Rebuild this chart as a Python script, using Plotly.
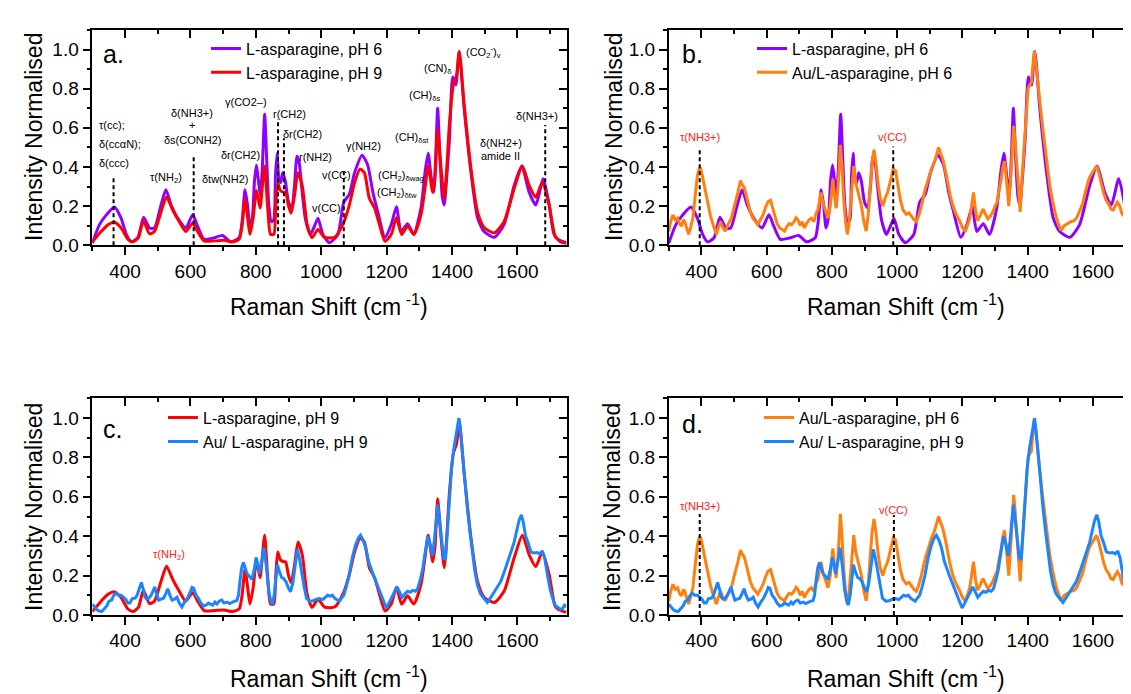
import plotly.graph_objects as go

# ---------------- data ----------------
# L-asparagine, pH 6 (purple)
lasp6_x = [300, 322, 343, 368, 388, 404, 419, 439, 457, 475, 490, 510, 525, 541, 561, 586, 607, 622, 642, 673,
           698, 723, 749, 758, 767, 775, 782, 790, 796, 802, 808, 814, 820, 827, 833, 840, 848, 855, 860, 865,
           871, 876, 882, 890, 900, 910, 918, 926, 932, 940, 952, 967, 980, 990, 1005, 1025, 1051, 1069, 1086, 1102,
           1125, 1142, 1158, 1173, 1195, 1214, 1230, 1244, 1264, 1283, 1305, 1318, 1327, 1336, 1344, 1350, 1356, 1363, 1370, 1376,
           1384, 1392, 1402, 1408, 1412, 1422, 1437, 1458, 1478, 1498, 1529, 1559, 1590, 1613, 1636, 1656, 1679, 1697, 1712, 1732, 1750]
lasp6_y = [0.01, 0.105, 0.155, 0.195, 0.138, 0.055, 0.017, 0.038, 0.143, 0.088, 0.088, 0.205, 0.283, 0.205, 0.138, 0.088, 0.155, 0.097, 0.03, 0.038,
           0.05, 0.017, 0.038, 0.12, 0.283, 0.2, 0.088, 0.15, 0.33, 0.41, 0.33, 0.25, 0.4, 0.67, 0.45, 0.2, 0.12, 0.13, 0.35, 0.47,
           0.33, 0.32, 0.37, 0.33, 0.22, 0.19, 0.3, 0.455, 0.43, 0.3, 0.13, 0.055, 0.1, 0.138, 0.055, 0.013, 0.055, 0.22, 0.26, 0.37,
           0.46, 0.41, 0.27, 0.17, 0.04, 0.105, 0.197, 0.07, 0.11, 0.055, 0.19, 0.38, 0.47, 0.35, 0.27, 0.45, 0.70, 0.45, 0.25, 0.205,
           0.35, 0.54, 0.86, 0.84, 0.82, 0.99, 0.70, 0.37, 0.14, 0.07, 0.04, 0.105, 0.305, 0.405, 0.27, 0.205, 0.34, 0.205, 0.055, 0.017, 0.01]

# L-asparagine, pH 9 (red)
lasp9_x = [300, 327, 348, 368, 388, 409, 424, 441, 456, 475, 490, 510, 527, 546, 566, 586, 607, 622, 642, 673,
           703, 728, 749, 758, 767, 775, 782, 792, 802, 813, 820, 827, 836, 845, 855, 861, 867, 875, 885, 891,
           900, 908, 918, 929, 942, 957, 972, 990, 1010, 1041, 1066, 1086, 1102, 1119, 1132, 1147, 1163, 1178, 1195, 1214,
           1230, 1246, 1264, 1283, 1305, 1318, 1327, 1341, 1348, 1356, 1365, 1376, 1384, 1392, 1404, 1414, 1422, 1437, 1458, 1478,
           1498, 1529, 1559, 1590, 1615, 1636, 1656, 1676, 1697, 1717, 1742, 1750]
lasp9_y = [0.017, 0.07, 0.105, 0.117, 0.088, 0.03, 0.017, 0.038, 0.125, 0.058, 0.07, 0.17, 0.247, 0.18, 0.12, 0.07, 0.113, 0.07, 0.022, 0.022,
           0.025, 0.017, 0.03, 0.1, 0.233, 0.14, 0.055, 0.14, 0.28, 0.19, 0.3, 0.405, 0.2, 0.055, 0.055, 0.2, 0.32, 0.28, 0.27, 0.27,
           0.2, 0.163, 0.25, 0.37, 0.305, 0.105, 0.038, 0.08, 0.04, 0.04, 0.105, 0.205, 0.32, 0.39, 0.37, 0.24, 0.19, 0.105, 0.02, 0.055,
           0.14, 0.055, 0.097, 0.055, 0.155, 0.3, 0.405, 0.27, 0.35, 0.59, 0.42, 0.24, 0.4, 0.62, 0.82, 0.87, 0.99, 0.72, 0.39, 0.17,
           0.09, 0.063, 0.12, 0.29, 0.405, 0.305, 0.245, 0.32, 0.205, 0.04, 0.017, 0.015]

# Au/L-asparagine, pH 6 (orange)
au6_x = [300, 306, 313, 320, 327, 333, 339, 345, 349, 355, 361, 367, 374, 381, 388, 393, 397, 401, 405, 412,
         420, 428, 436, 441, 446, 452, 459, 466, 473, 480, 486, 492, 498, 505, 512, 516, 520, 525, 531, 537,
         543, 550, 558, 566, 573, 581, 589, 596, 604, 612, 618, 624, 632, 640, 648, 655, 662, 669, 676, 684,
         690, 696, 703, 709, 716, 722, 730, 737, 745, 751, 757, 762, 767, 772, 778, 783, 788, 795, 803, 808,
         813, 819, 826, 831, 836, 842, 847, 852, 857, 862, 867, 873, 880, 885, 890, 898, 905, 911, 917, 923,
         929, 935, 941, 948, 956, 963, 971, 980, 988, 995, 1003, 1010, 1018, 1028, 1036, 1044, 1052, 1059, 1066, 1074,
         1085, 1095, 1105, 1115, 1121, 1127, 1133, 1140, 1148, 1156, 1163, 1171, 1180, 1191, 1200, 1209, 1216, 1222, 1228, 1234,
         1240, 1246, 1254, 1263, 1270, 1278, 1286, 1293, 1300, 1306, 1312, 1318, 1324, 1329, 1335, 1342, 1348, 1352, 1357, 1362,
         1367, 1372, 1377, 1383, 1390, 1396, 1401, 1406, 1411, 1416, 1420, 1425, 1431, 1438, 1446, 1453, 1461, 1468, 1476, 1486,
         1496, 1502, 1512, 1522, 1532, 1542, 1550, 1558, 1568, 1578, 1588, 1598, 1605, 1611, 1618, 1624, 1632, 1640, 1648, 1655,
         1662, 1668, 1675, 1682, 1689, 1695, 1702, 1710, 1718, 1726, 1733, 1740, 1750]
au6_y = [0.07, 0.12, 0.155, 0.13, 0.138, 0.11, 0.097, 0.13, 0.12, 0.08, 0.055, 0.09, 0.138, 0.25, 0.355, 0.39, 0.397, 0.37, 0.338, 0.27,
         0.205, 0.15, 0.105, 0.08, 0.055, 0.09, 0.12, 0.09, 0.072, 0.1, 0.12, 0.138, 0.18, 0.22, 0.27, 0.3, 0.33, 0.31, 0.297, 0.26,
         0.222, 0.17, 0.138, 0.12, 0.105, 0.13, 0.155, 0.19, 0.222, 0.23, 0.19, 0.155, 0.11, 0.088, 0.08, 0.072, 0.095, 0.11, 0.105, 0.12,
         0.14, 0.13, 0.1, 0.12, 0.088, 0.11, 0.13, 0.138, 0.12, 0.16, 0.18, 0.22, 0.27, 0.22, 0.188, 0.16, 0.138, 0.2, 0.338, 0.25,
         0.188, 0.3, 0.513, 0.4, 0.238, 0.12, 0.055, 0.1, 0.205, 0.3, 0.405, 0.32, 0.27, 0.25, 0.205, 0.12, 0.072, 0.15, 0.305, 0.42,
         0.488, 0.42, 0.32, 0.24, 0.2, 0.24, 0.27, 0.33, 0.39, 0.38, 0.3, 0.23, 0.18, 0.158, 0.165, 0.145, 0.13, 0.12, 0.15, 0.2,
         0.28, 0.335, 0.39, 0.43, 0.47, 0.5, 0.47, 0.44, 0.38, 0.3, 0.25, 0.2, 0.16, 0.125, 0.09, 0.07, 0.1, 0.135, 0.2, 0.27,
         0.18, 0.125, 0.15, 0.185, 0.16, 0.135, 0.15, 0.17, 0.2, 0.22, 0.28, 0.33, 0.4, 0.43, 0.33, 0.2, 0.35, 0.5, 0.61, 0.52,
         0.41, 0.28, 0.17, 0.35, 0.535, 0.7, 0.8, 0.82, 0.83, 0.92, 0.993, 0.93, 0.82, 0.72, 0.6, 0.5, 0.395, 0.3, 0.228, 0.15,
         0.1, 0.075, 0.1, 0.11, 0.12, 0.125, 0.14, 0.17, 0.21, 0.28, 0.34, 0.37, 0.39, 0.405, 0.37, 0.32, 0.27, 0.23, 0.21, 0.185,
         0.18, 0.2, 0.22, 0.2, 0.16, 0.15, 0.12, 0.095, 0.11, 0.125, 0.14, 0.15, 0.15]

# Au/ L-asparagine, pH 9 (blue)
au9_x = [300, 307, 315, 322, 329, 336, 344, 351, 359, 366, 372, 380, 388, 395, 402, 409, 415, 422, 431, 437,
         443, 450, 456, 461, 467, 473, 480, 486, 491, 496, 503, 510, 518, 525, 531, 537, 544, 552, 559, 566,
         574, 582, 590, 598, 605, 610, 617, 625, 632, 640, 648, 655, 661, 668, 675, 681, 688, 696, 703, 712,
         720, 727, 735, 742, 747, 752, 757, 762, 768, 773, 778, 788, 795, 801, 806, 811, 818, 825, 832, 839,
         845, 850, 856, 861, 866, 872, 879, 885, 892, 899, 906, 913, 920, 927, 933, 940, 947, 955, 965, 975,
         985, 995, 1005, 1013, 1020, 1028, 1034, 1041, 1048, 1055, 1062, 1069, 1076, 1085, 1095, 1104, 1113, 1120, 1128, 1136,
         1145, 1153, 1160, 1167, 1176, 1185, 1193, 1199, 1207, 1214, 1222, 1232, 1240, 1247, 1255, 1264, 1272, 1280, 1288, 1295,
         1303, 1310, 1318, 1326, 1333, 1340, 1346, 1351, 1356, 1362, 1368, 1374, 1380, 1385, 1391, 1398, 1405, 1414, 1421, 1426,
         1432, 1440, 1447, 1455, 1463, 1470, 1478, 1486, 1495, 1503, 1508, 1517, 1527, 1538, 1549, 1560, 1570, 1580, 1590, 1598,
         1605, 1612, 1618, 1625, 1632, 1641, 1650, 1660, 1668, 1676, 1683, 1692, 1700, 1707, 1714, 1722, 1730, 1737, 1744, 1750]
au9_y = [0.055, 0.04, 0.025, 0.02, 0.017, 0.03, 0.045, 0.07, 0.075, 0.1, 0.11, 0.1, 0.1, 0.09, 0.08, 0.06, 0.06, 0.083, 0.085, 0.1,
         0.13, 0.165, 0.13, 0.09, 0.08, 0.085, 0.1, 0.12, 0.142, 0.11, 0.075, 0.08, 0.085, 0.11, 0.133, 0.1, 0.075, 0.08, 0.09, 0.06,
         0.04, 0.065, 0.083, 0.11, 0.14, 0.135, 0.1, 0.083, 0.06, 0.045, 0.05, 0.06, 0.055, 0.05, 0.065, 0.055, 0.07, 0.075, 0.06, 0.065,
         0.058, 0.065, 0.07, 0.072, 0.1, 0.18, 0.24, 0.267, 0.24, 0.21, 0.2, 0.18, 0.23, 0.292, 0.26, 0.21, 0.27, 0.342, 0.25, 0.13,
         0.075, 0.05, 0.1, 0.2, 0.255, 0.22, 0.19, 0.185, 0.17, 0.14, 0.117, 0.16, 0.26, 0.333, 0.29, 0.217, 0.15, 0.085, 0.07, 0.072,
         0.08, 0.083, 0.078, 0.09, 0.1, 0.095, 0.1, 0.085, 0.078, 0.07, 0.085, 0.1, 0.14, 0.2, 0.29, 0.35, 0.39, 0.405, 0.38, 0.34,
         0.27, 0.228, 0.2, 0.17, 0.13, 0.09, 0.06, 0.035, 0.06, 0.087, 0.11, 0.142, 0.11, 0.09, 0.105, 0.12, 0.115, 0.125, 0.12, 0.133,
         0.18, 0.23, 0.32, 0.4, 0.36, 0.3, 0.38, 0.48, 0.56, 0.48, 0.38, 0.29, 0.28, 0.4, 0.57, 0.74, 0.84, 0.92, 1.0, 0.93,
         0.815, 0.68, 0.54, 0.42, 0.317, 0.22, 0.15, 0.11, 0.09, 0.07, 0.063, 0.085, 0.11, 0.14, 0.17, 0.22, 0.27, 0.32, 0.37, 0.43,
         0.48, 0.508, 0.47, 0.4, 0.37, 0.32, 0.315, 0.317, 0.31, 0.325, 0.29, 0.2, 0.13, 0.09, 0.05, 0.04, 0.03, 0.03, 0.05, 0.04]

# band-marker (dashed) positions and heights per panel
marks_a_x = [365, 610, 868, 886, 1069, 1685]
marks_a_top = [0.35, 0.46, 0.645, 0.547, 0.38, 0.615]
marks_b_x = [395, 988]
marks_b_top = [0.50, 0.505]
marks_d_x = [395, 990]
marks_d_top = [0.513, 0.508]

# band labels: (text, x, y, anchor)
labels_a = [
    ("τ(cc);", 315, 0.617, "left"),
    ("δ(ccαN);", 315, 0.516, "left"),
    ("δ(ccc)", 315, 0.419, "left"),
    ("τ(NH<sub>2</sub>)", 526, 0.343, "center"),
    ("δ(NH3+)", 606, 0.678, "center"),
    ("+", 606, 0.617, "center"),
    ("δs(CONH2)", 606, 0.538, "center"),
    ("δtw(NH2)", 705, 0.337, "center"),
    ("γ(CO2–)", 771, 0.734, "center"),
    ("δr(CH2)", 753, 0.46, "center"),
    ("r(CH2)", 904, 0.672, "center"),
    ("δr(CH2)", 942, 0.57, "center"),
    ("r(NH2)", 984, 0.449, "center"),
    ("v(CC)", 1017, 0.19, "center"),
    ("v(CC)", 1048, 0.357, "center"),
    ("γ(NH2)", 1128, 0.507, "center"),
    ("(CH<sub>2</sub>)<sub>δwag</sub>", 1243, 0.352, "center"),
    ("(CH<sub>2</sub>)<sub>δtw</sub>", 1232, 0.265, "center"),
    ("(CH)<sub>δst</sub>", 1278, 0.549, "center"),
    ("(CH)<sub>δs</sub>", 1317, 0.764, "center"),
    ("(CN)<sub>δ</sub>", 1358, 0.90, "center"),
    ("(CO<sub>2</sub><sup>-</sup>)<sub>v</sub>", 1495, 0.99, "center"),
    ("δ(NH2+)", 1549, 0.524, "center"),
    ("amide II", 1549, 0.454, "center"),
    ("δ(NH3+)", 1660, 0.658, "center"),
]
labels_b = [("τ(NH3+)", 395, 0.553), ("v(CC)", 986, 0.554)]
labels_c = [("τ(NH<sub>2</sub>)", 534, 0.305)]
labels_d = [("τ(NH3+)", 395, 0.553), ("v(CC)", 990, 0.533)]

name_l6 = "L-asparagine, pH 6"
name_l9 = "L-asparagine, pH 9"
name_a6 = "Au/L-asparagine, pH 6"
name_a9 = "Au/ L-asparagine, pH 9"

C_PURPLE = "#9000ff"
C_RED = "#ff0000"
C_ORANGE = "#ff7f0f"
C_BLUE = "#1a85ff"

# ---------------- layout geometry ----------------
W, H = 1131, 694
FONT = "Liberation Sans, Arial, sans-serif"

def fx(p):
    return p / W

def fy(p):
    return 1 - p / H

panels = [
    dict(k=1, xd=(84.3, 558.5), yd=(22.4, 241.0), xr=[300, 1750]),
    dict(k=2, xd=(660.7, 1131.0), yd=(22.4, 241.0), xr=[300, 1741]),
    dict(k=3, xd=(84.3, 558.5), yd=(396.7, 616.7), xr=[300, 1750]),
    dict(k=4, xd=(660.7, 1131.0), yd=(396.7, 616.7), xr=[300, 1741]),
]

def sfx(k):
    return "" if k == 1 else str(k)

fig = go.Figure()
layout = dict(width=W, height=H, margin=dict(l=0, r=0, t=0, b=0),
              paper_bgcolor="white", plot_bgcolor="white",
              font=dict(family=FONT, color="black", size=12), showlegend=True)

for p in panels:
    k = p["k"]
    xref = "x" + sfx(k)
    yref = "y" + sfx(k)
    layout["xaxis" + sfx(k)] = dict(
        domain=[fx(p["xd"][0]), fx(p["xd"][1])], range=p["xr"], anchor=yref,
        showgrid=False, zeroline=False, showline=True, linewidth=1.5, linecolor="black",
        ticks="outside", ticklen=8, tickwidth=1.5, tickcolor="black", tick0=0, dtick=200,
        tickfont=dict(size=19, family=FONT, color="black"),
        minor=dict(dtick=100, ticks="outside", ticklen=4, tickwidth=1.5, tickcolor="black", showgrid=False))
    layout["yaxis" + sfx(k)] = dict(
        domain=[fy(p["yd"][1]), fy(p["yd"][0])], range=[0, 1.1], anchor=xref,
        showgrid=False, zeroline=False, showline=True, linewidth=1.5, linecolor="black",
        ticks="outside", ticklen=8, tickwidth=1.5, tickcolor="black", tick0=0, dtick=0.2, tickformat=".1f",
        tickfont=dict(size=19, family=FONT, color="black"),
        minor=dict(dtick=0.1, ticks="outside", ticklen=4, tickwidth=1.5, tickcolor="black", showgrid=False))
    # mirrored top / right axes with inward ticks
    xt = k + 4
    yt = k + 4
    layout["xaxis%d" % xt] = dict(
        overlaying=xref, side="top", anchor=yref, range=p["xr"],
        showgrid=False, zeroline=False, showline=True, linewidth=1.5, linecolor="black",
        ticks="inside", ticklen=8, tickwidth=1.5, tickcolor="black", tick0=0, dtick=200,
        showticklabels=False,
        minor=dict(dtick=100, ticks="inside", ticklen=4, tickwidth=1.5, tickcolor="black", showgrid=False))
    layout["yaxis%d" % yt] = dict(
        overlaying=yref, side="right", anchor=xref, range=[0, 1.1],
        showgrid=False, zeroline=False, showline=(k in (1, 3)), linewidth=1.5, linecolor="black",
        ticks="inside", ticklen=8, tickwidth=1.5, tickcolor="black", tick0=0, dtick=0.2,
        showticklabels=False,
        minor=dict(dtick=0.1, ticks="inside", ticklen=4, tickwidth=1.5, tickcolor="black", showgrid=False))
    fig.add_trace(go.Scatter(x=[None], y=[None], xaxis="x%d" % xt, yaxis=yref, showlegend=False, hoverinfo="skip"))
    fig.add_trace(go.Scatter(x=[None], y=[None], xaxis=xref, yaxis="y%d" % yt, showlegend=False, hoverinfo="skip"))

def add_series(k, xs, ys, name, color, shape):
    fig.add_trace(go.Scatter(x=xs, y=ys, mode="lines", name=name, xaxis="x" + sfx(k), yaxis="y" + sfx(k),
                             line=dict(color=color, width=3, shape=shape, smoothing=0.6),
                             legend="legend" + sfx(k), cliponaxis=True))

add_series(1, lasp6_x, lasp6_y, name_l6, C_PURPLE, "spline")
add_series(1, lasp9_x, lasp9_y, name_l9, C_RED, "spline")
add_series(2, lasp6_x, lasp6_y, name_l6, C_PURPLE, "spline")
add_series(2, au6_x, au6_y, name_a6, C_ORANGE, "linear")
add_series(3, lasp9_x, lasp9_y, name_l9, C_RED, "spline")
add_series(3, au9_x, au9_y, name_a9, C_BLUE, "linear")
add_series(4, au6_x, au6_y, name_a6, C_ORANGE, "linear")
add_series(4, au9_x, au9_y, name_a9, C_BLUE, "linear")

def add_marks(k, xs, tops):
    mx, my = [], []
    for x, t in zip(xs, tops):
        mx += [x, x, None]
        my += [0, t, None]
    fig.add_trace(go.Scatter(x=mx, y=my, mode="lines", xaxis="x" + sfx(k), yaxis="y" + sfx(k), showlegend=False,
                             hoverinfo="skip", line=dict(color="black", width=2, dash="4px,3px")))

add_marks(1, marks_a_x, marks_a_top)
add_marks(2, marks_b_x, marks_b_top)
add_marks(4, marks_d_x, marks_d_top)

annotations = []

def add_labels(k, labels, color, size):
    for lab in labels:
        text, x, y = lab[0], lab[1], lab[2]
        align = lab[3] if len(lab) > 3 else "center"
        annotations.append(dict(text=text, x=x, y=y, xref="x" + sfx(k), yref="y" + sfx(k), showarrow=False,
                                xanchor=align, yanchor="middle",
                                font=dict(size=size, color=color, family=FONT)))

add_labels(1, labels_a, "black", 11)
add_labels(2, labels_b, "#ff2020", 11)
add_labels(3, labels_c, "#ff2020", 11)
add_labels(4, labels_d, "#ff2020", 11)

# panel letters
for letter, xpx, ypx in [("a.", 93, 47), ("b.", 672, 47), ("c.", 93, 428), ("d.", 672, 423)]:
    annotations.append(dict(text=letter, x=fx(xpx), y=fy(ypx), xref="paper", yref="paper", showarrow=False,
                            xanchor="left", yanchor="middle", font=dict(size=25, family=FONT, color="black")))

# axis titles
for xc, yc in [(321, 302), (898, 302), (321, 680), (898, 680)]:
    annotations.append(dict(text="Raman Shift (cm<sup> -1</sup>)", x=fx(xc), y=fy(yc), xref="paper", yref="paper",
                            showarrow=False, xanchor="center", yanchor="middle",
                            font=dict(size=23, family=FONT, color="black")))
for xc, yc in [(26, 131), (606, 131), (26, 507), (604, 507)]:
    annotations.append(dict(text="Intensity Normalised", x=fx(xc), y=fy(yc), xref="paper", yref="paper",
                            showarrow=False, textangle=-90, xanchor="center", yanchor="middle",
                            font=dict(size=23, family=FONT, color="black")))

layout["annotations"] = annotations

# legends
for key, xpx, ypx in [("legend", 198, 24), ("legend2", 744, 24), ("legend3", 155, 399), ("legend4", 751, 399)]:
    layout[key] = dict(x=fx(xpx), y=fy(ypx), xanchor="left", yanchor="top", bgcolor="rgba(0,0,0,0)",
                       font=dict(size=16, family=FONT, color="black"), tracegroupgap=0, itemwidth=30,
                       traceorder="normal")

fig.update_layout(**layout)
fig.write_html("out.html")
